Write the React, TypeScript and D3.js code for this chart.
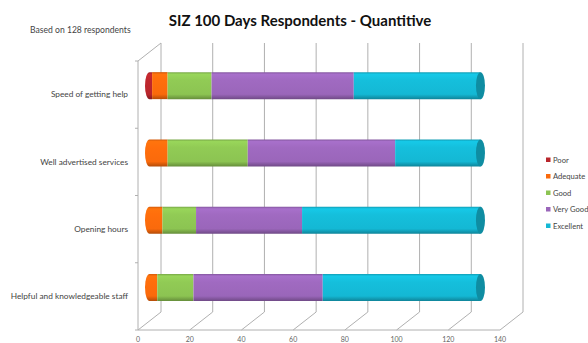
import React, { useRef, useEffect } from 'react';
import * as d3 from 'd3';

const CATEGORIES = [
  'Speed of getting help',
  'Well advertised services',
  'Opening hours',
  'Helpful and knowledgeable staff',
];
const RATINGS = ['Poor', 'Adequate', 'Good', 'Very Good', 'Excellent'];
const POOR = [1, 0, 0, 0];
const ADEQUATE = [6, 7, 5, 3];
const GOOD = [17, 31, 13, 14];
const VERY_GOOD = [55, 57, 41, 50];
const EXCELLENT = [49, 33, 69, 61];
const X_TICKS = [0, 20, 40, 60, 80, 100, 120, 140];
const COLORS = ['#b8262c', '#fa6a0c', '#8cc452', '#9a66ba', '#14b8d4'];

const W = 588;
const H = 343;

function App() {
  const ref = useRef<SVGSVGElement>(null);

  useEffect(() => {
    const svg = d3.select(ref.current);
    svg.selectAll('*').remove();

    const font = 'Lato, "Liberation Sans", sans-serif';

    // 3d box: front plane and offset to back plane
    const dx = 23;
    const dy = -18;
    const x = d3.scaleLinear().domain([0, 140]).range([138, 500]);
    const y = d3.scaleBand<string>().domain(CATEGORIES).range([61, 330]).paddingInner(0).paddingOuter(0);
    const floorY = 330;
    const topY = 61;

    const rows = CATEGORIES.map((c, i) => ({
      cat: c,
      Poor: POOR[i],
      Adequate: ADEQUATE[i],
      Good: GOOD[i],
      'Very Good': VERY_GOOD[i],
      Excellent: EXCELLENT[i],
    }));
    const series = d3.stack<any>().keys(RATINGS)(rows);

    // gradients for cylinders
    const defs = svg.append('defs');
    COLORS.forEach((col, i) => {
      const g = defs.append('linearGradient')
        .attr('id', `cyl${i}`)
        .attr('x1', 0).attr('y1', 0).attr('x2', 0).attr('y2', 1);
      const c = d3.color(col)!;
      g.append('stop').attr('offset', '0%').attr('stop-color', c.darker(0.5).formatHex());
      g.append('stop').attr('offset', '8%').attr('stop-color', c.brighter(0.25).formatHex());
      g.append('stop').attr('offset', '30%').attr('stop-color', c.brighter(0.1).formatHex());
      g.append('stop').attr('offset', '82%').attr('stop-color', col);
      g.append('stop').attr('offset', '100%').attr('stop-color', c.darker(0.9).formatHex());
    });

    const grid = '#b0b0b0';

    // back wall gridlines
    svg.append('g')
      .selectAll('line')
      .data(X_TICKS)
      .join('line')
      .attr('x1', d => x(d) + dx).attr('x2', d => x(d) + dx)
      .attr('y1', topY + dy).attr('y2', floorY + dy)
      .attr('stroke', grid).attr('stroke-width', 1);

    // floor lines
    svg.append('g')
      .selectAll('line')
      .data(X_TICKS)
      .join('line')
      .attr('x1', d => x(d)).attr('x2', d => x(d) + dx)
      .attr('y1', floorY).attr('y2', floorY + dy)
      .attr('stroke', grid).attr('stroke-width', 1);
    svg.append('line')
      .attr('x1', x(0)).attr('x2', x(140))
      .attr('y1', floorY).attr('y2', floorY)
      .attr('stroke', grid);

    // left wall
    svg.append('line')
      .attr('x1', x(0)).attr('x2', x(0))
      .attr('y1', topY).attr('y2', floorY)
      .attr('stroke', grid);
    svg.append('line')
      .attr('x1', x(0)).attr('x2', x(0) + dx)
      .attr('y1', topY).attr('y2', topY + dy)
      .attr('stroke', grid);
    svg.append('g')
      .selectAll('line')
      .data(d3.range(CATEGORIES.length + 1))
      .join('line')
      .attr('x1', x(0) - 3).attr('x2', x(0))
      .attr('y1', i => topY + i * y.step()).attr('y2', i => topY + i * y.step())
      .attr('stroke', grid);

    // tick labels
    svg.append('g')
      .selectAll('text')
      .data(X_TICKS)
      .join('text')
      .attr('x', d => x(d))
      .attr('y', floorY + 12)
      .attr('text-anchor', 'middle')
      .attr('fill', '#666')
      .style('font-family', font)
      .style('font-size', '7px')
      .text(d => d);

    // category labels
    svg.append('g')
      .selectAll('text')
      .data(CATEGORIES)
      .join('text')
      .attr('x', 128)
      .attr('y', d => y(d)! + y.bandwidth() / 2 + 2.8)
      .attr('text-anchor', 'end')
      .attr('fill', '#444')
      .style('font-family', font)
      .style('font-size', '8.3px')
      .text(d => d);

    // cylinders at mid-depth
    const xb = (v: number) => x(v) + dx / 2;
    const ry = 13.5;
    const rx = 4.5;
    const bars = svg.append('g');
    CATEGORIES.forEach((c, ci) => {
      const cy = y(c)! + y.bandwidth() / 2 + dy / 2;
      const top = cy - ry;
      const bot = cy + ry;
      let first = true;
      let last = -1;
      series.forEach((s, si) => {
        const [v0, v1] = s[ci];
        if (v1 - v0 <= 0) return;
        const x0 = xb(v0);
        const x1 = xb(v1);
        const p = first
          ? `M${x0},${top}L${x1},${top}L${x1},${bot}L${x0},${bot}A${rx},${ry} 0 0 1 ${x0},${top}Z`
          : `M${x0},${top}L${x1},${top}L${x1},${bot}L${x0},${bot}Z`;
        bars.append('path').attr('d', p).attr('fill', `url(#cyl${si})`);
        first = false;
        last = si;
      });
      const total = series[series.length - 1][ci][1];
      const capCol = d3.color(COLORS[last])!.darker(0.75).formatHex();
      bars.append('ellipse')
        .attr('cx', xb(total)).attr('cy', cy)
        .attr('rx', rx).attr('ry', ry)
        .attr('fill', capCol);
    });

    // legend
    const legend = svg.append('g').attr('transform', 'translate(546, 160)');
    RATINGS.forEach((r, i) => {
      const row = legend.append('g').attr('transform', `translate(0, ${i * 16.5})`);
      row.append('rect')
        .attr('x', 0).attr('y', -2.5)
        .attr('width', 4.5).attr('height', 4.5)
        .attr('fill', COLORS[i]);
      row.append('text')
        .attr('x', 7).attr('y', 2.6)
        .attr('fill', '#444')
        .style('font-family', font)
        .style('font-size', '7.6px')
        .text(r);
    });

    // titles
    svg.append('text')
      .attr('x', 300).attr('y', 26)
      .attr('text-anchor', 'middle')
      .attr('fill', '#111')
      .style('font-family', font)
      .style('font-weight', 'bold')
      .style('font-size', '15px')
      .text('SIZ 100 Days Respondents - Quantitive');

    svg.append('text')
      .attr('x', 30).attr('y', 33)
      .attr('fill', '#444')
      .style('font-family', font)
      .style('font-size', '8.6px')
      .text('Based on 128 respondents');
  }, []);

  return (
    <svg
      ref={ref}
      width={W}
      height={H}
      style={{ position: 'absolute', left: 0, top: 0, background: '#fff' }}
    />
  );
}

export default App;
